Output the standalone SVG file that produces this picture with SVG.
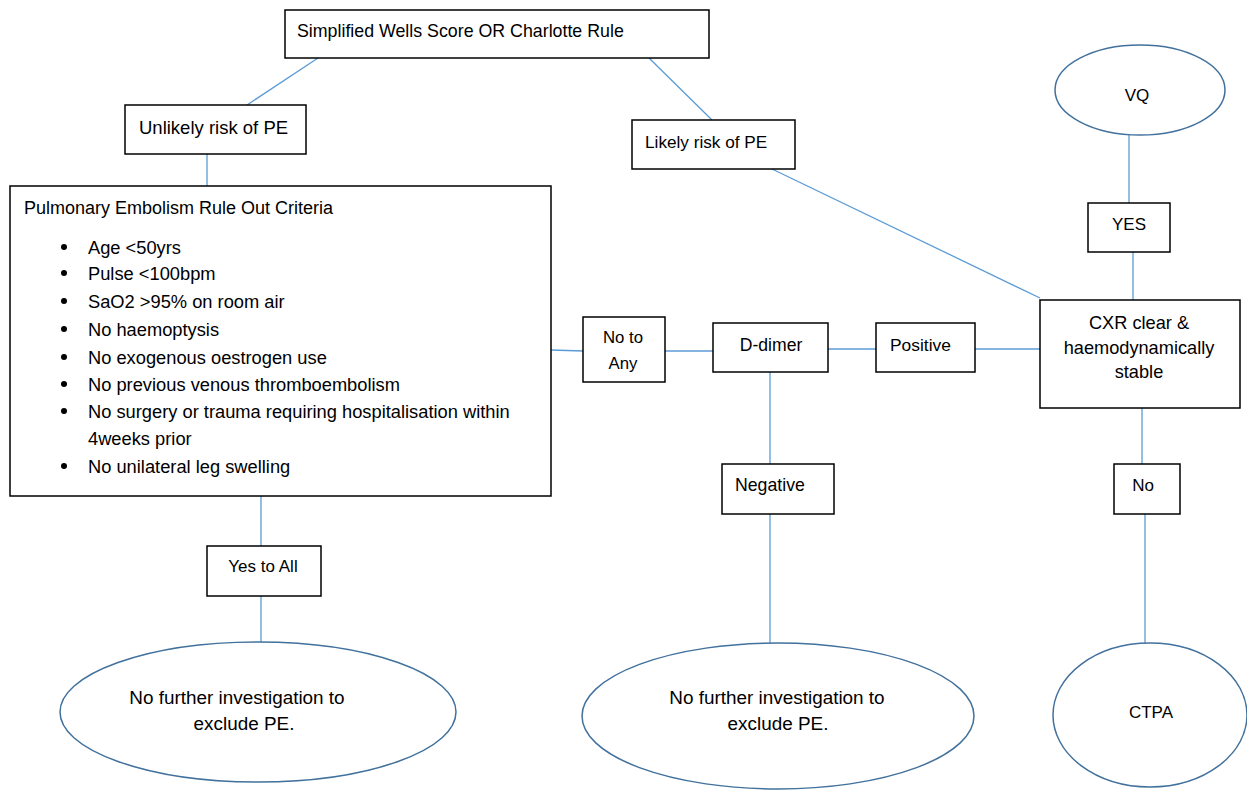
<svg xmlns="http://www.w3.org/2000/svg" width="1247" height="791" viewBox="0 0 1247 791">
<style>
.box{fill:#fff;stroke:#000;stroke-width:1.5}
.ell{fill:#fff;stroke:#41719c;stroke-width:1.5}
.c{stroke:#5b9bd5;stroke-width:1.3;fill:none}
text{font-family:"Liberation Sans",Arial,sans-serif;font-size:16px;fill:#000;dominant-baseline:central}
.m{text-anchor:middle}
</style>
<rect width="1247" height="791" fill="#fff"/>
<g id="connectors">
<line class="c" x1="318" y1="58" x2="247" y2="105"/>
<line class="c" x1="649" y1="58" x2="712" y2="120"/>
<line class="c" x1="207" y1="154" x2="207" y2="186"/>
<line class="c" x1="551" y1="350" x2="583" y2="351"/>
<line class="c" x1="665" y1="351" x2="713" y2="351"/>
<line class="c" x1="828" y1="349" x2="876" y2="349"/>
<line class="c" x1="975" y1="349" x2="1040" y2="349"/>
<line class="c" x1="772" y1="169" x2="1040" y2="298"/>
<line class="c" x1="1129" y1="135" x2="1129" y2="203"/>
<line class="c" x1="1133" y1="252" x2="1133" y2="300"/>
<line class="c" x1="1142" y1="408" x2="1142" y2="464"/>
<line class="c" x1="1145" y1="514" x2="1145" y2="643"/>
<line class="c" x1="770" y1="372" x2="770" y2="464"/>
<line class="c" x1="770" y1="514" x2="770" y2="643"/>
<line class="c" x1="261" y1="496" x2="261" y2="546"/>
<line class="c" x1="261" y1="596" x2="261" y2="643"/>
</g>
<g id="top">
<rect class="box" x="285" y="10" width="424" height="48"/>
<text x="297" y="31" style="font-size:17.8px">Simplified Wells Score OR Charlotte Rule</text>
</g>
<g id="unlikely">
<rect class="box" x="125" y="105" width="181" height="49"/>
<text x="139" y="127" style="font-size:18.5px">Unlikely risk of PE</text>
</g>
<g id="likely">
<rect class="box" x="632" y="120" width="163" height="49"/>
<text x="645" y="142" style="font-size:17.2px">Likely risk of PE</text>
</g>
<g id="perc">
<rect class="box" x="10" y="186" width="541" height="310"/>
<text x="24" y="208" style="font-size:18px">Pulmonary Embolism Rule Out Criteria</text>
<g fill="#000">
<circle cx="64" cy="247" r="3"/>
<circle cx="64" cy="273" r="3"/>
<circle cx="64" cy="301" r="3"/>
<circle cx="64" cy="329" r="3"/>
<circle cx="64" cy="357" r="3"/>
<circle cx="64" cy="384" r="3"/>
<circle cx="64" cy="411" r="3"/>
<circle cx="64" cy="466" r="3"/>
</g>
<text x="88" y="247" style="font-size:18.3px">Age &lt;50yrs</text>
<text x="88" y="273" style="font-size:18.3px">Pulse &lt;100bpm</text>
<text x="88" y="301" style="font-size:18.3px">SaO2 &gt;95% on room air</text>
<text x="88" y="329" style="font-size:18.3px">No haemoptysis</text>
<text x="88" y="357" style="font-size:18.3px">No exogenous oestrogen use</text>
<text x="88" y="384" style="font-size:18.3px">No previous venous thromboembolism</text>
<text x="88" y="411" style="font-size:18.3px">No surgery or trauma requiring hospitalisation within</text>
<text x="88" y="438" style="font-size:18.3px">4weeks prior</text>
<text x="88" y="466" style="font-size:18.3px">No unilateral leg swelling</text>
</g>
<g id="notoany">
<rect class="box" x="583" y="317" width="82" height="65"/>
<text class="m" x="623" y="337" style="font-size:16.8px">No to</text>
<text class="m" x="623" y="363" style="font-size:16.8px">Any</text>
</g>
<g id="ddimer">
<rect class="box" x="713" y="323" width="115" height="49"/>
<text class="m" x="771" y="345" style="font-size:17.6px">D-dimer</text>
</g>
<g id="positive">
<rect class="box" x="876" y="323" width="99" height="49"/>
<text x="890" y="345" style="font-size:17.4px">Positive</text>
</g>
<g id="cxr">
<rect class="box" x="1040" y="300" width="200" height="108"/>
<text class="m" x="1139" y="323" style="font-size:18.2px">CXR clear &amp;</text>
<text class="m" x="1139" y="348" style="font-size:18.2px">haemodynamically</text>
<text class="m" x="1139" y="372" style="font-size:18.2px">stable</text>
</g>
<g id="vq">
<ellipse class="ell" cx="1140" cy="90" rx="85" ry="45"/>
<text class="m" x="1137" y="95" style="font-size:17px">VQ</text>
</g>
<g id="yes">
<rect class="box" x="1088" y="203" width="82" height="49"/>
<text class="m" x="1129" y="224" style="font-size:17px">YES</text>
</g>
<g id="no">
<rect class="box" x="1114" y="464" width="66" height="50"/>
<text class="m" x="1143" y="485" style="font-size:17px">No</text>
</g>
<g id="ctpa">
<ellipse class="ell" cx="1150" cy="715" rx="97" ry="72"/>
<text class="m" x="1151" y="712" style="font-size:17px">CTPA</text>
</g>
<g id="negative">
<rect class="box" x="722" y="464" width="112" height="50"/>
<text x="735" y="485" style="font-size:17.7px">Negative</text>
</g>
<g id="nofurther2">
<ellipse class="ell" cx="778" cy="716" rx="196" ry="73"/>
<text class="m" x="777" y="697" style="font-size:18.9px">No further investigation to</text>
<text class="m" x="778" y="723" style="font-size:18.9px">exclude PE.</text>
</g>
<g id="yesall">
<rect class="box" x="207" y="546" width="114" height="50"/>
<text class="m" x="263" y="566" style="font-size:17px">Yes to All</text>
</g>
<g id="nofurther1">
<ellipse class="ell" cx="258" cy="712" rx="198" ry="70"/>
<text class="m" x="237" y="697" style="font-size:18.9px">No further investigation to</text>
<text class="m" x="244" y="723" style="font-size:18.9px">exclude PE.</text>
</g>
</svg>
